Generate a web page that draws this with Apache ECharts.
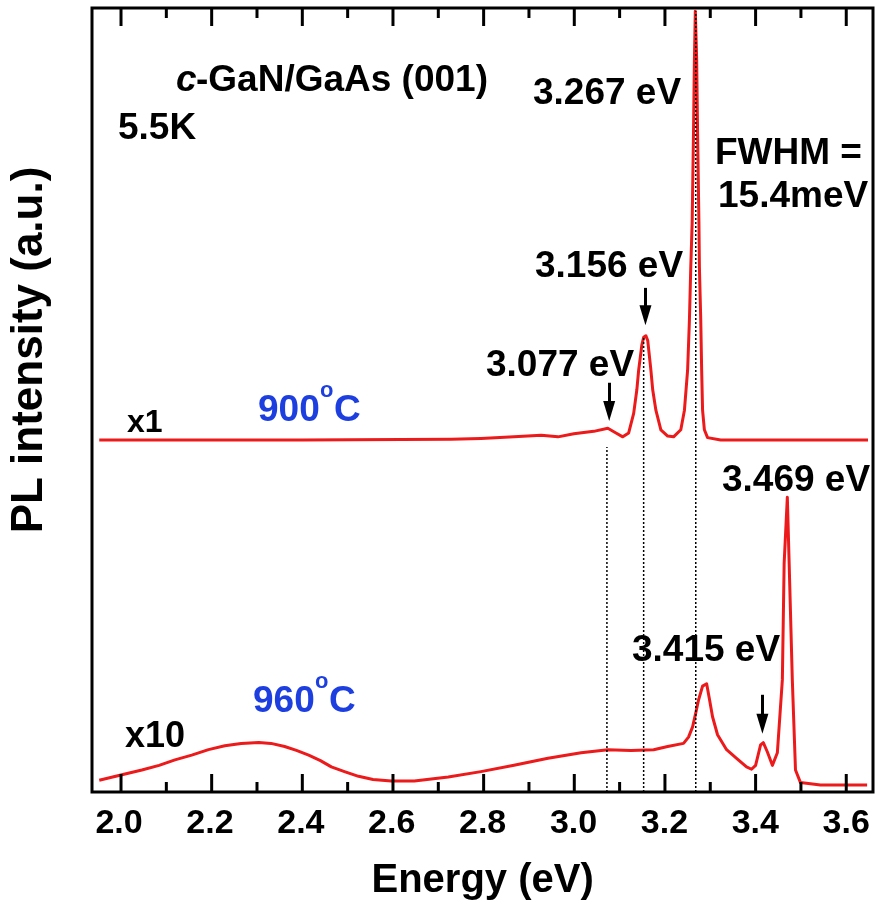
<!DOCTYPE html>
<html>
<head>
<meta charset="utf-8">
<script src="https://cdn.jsdelivr.net/npm/echarts@6/dist/echarts.min.js"></script>
<style>
html,body{margin:0;padding:0;background:#fff;}
#chart{width:881px;height:902px;}
</style>
</head>
<body>
<div id="chart"></div>
<script>
// ---- data ----
const upperEnergy = [1.952,2.398,2.728,2.794,2.867,2.927,2.964,2.999,3.043,3.074,3.092,3.107,3.120,3.131,3.138,3.142,3.149,3.153,3.158,3.162,3.169,3.173,3.180,3.191,3.206,3.219,3.235,3.243,3.250,3.254,3.257,3.260,3.263,3.265,3.267,3.270,3.272,3.275,3.276,3.279,3.281,3.283,3.287,3.294,3.323,3.648];
const upperIntensity = [44.9,44.9,45.0,45.1,45.3,45.5,45.3,45.7,46.0,46.4,45.8,45.3,45.8,48.3,51.3,53.8,57.0,58.0,58.2,57.6,53.8,51.3,48.7,46.2,45.4,45.3,46.2,48.7,53.8,60.2,67.0,72.5,84.1,93.4,99.6,93.4,84.1,72.5,67.0,60.2,53.8,48.7,46.2,45.2,44.9,44.9];

const lowerEnergy = [1.952,2.002,2.046,2.084,2.119,2.156,2.193,2.229,2.265,2.304,2.331,2.361,2.387,2.414,2.440,2.464,2.493,2.524,2.556,2.596,2.647,2.722,2.794,2.867,2.942,3.015,3.074,3.125,3.175,3.206,3.241,3.252,3.261,3.268,3.274,3.283,3.292,3.298,3.305,3.316,3.336,3.358,3.380,3.391,3.400,3.411,3.417,3.426,3.437,3.448,3.459,3.463,3.470,3.474,3.481,3.488,3.499,3.543,3.646];
const lowerIntensity = [1.5,2.2,2.8,3.4,4.1,4.7,5.4,5.9,6.2,6.3,6.2,5.8,5.3,4.7,4.0,3.2,2.6,2.0,1.6,1.4,1.4,1.9,2.6,3.4,4.3,5.0,5.4,5.3,5.4,5.8,6.2,7.0,8.3,10.1,11.7,13.5,13.8,11.9,9.6,7.3,5.4,4.3,3.2,2.9,3.4,6.0,6.3,5.1,3.4,5.0,14.3,29.2,37.6,29.2,14.3,2.8,1.2,0.9,0.9];

// energy-axis tick labels (major ticks) and minor ticks
const tickLabels = [2.0,2.2,2.4,2.6,2.8,3.0,3.2,3.4,3.6];
const minorTicks = [2.1,2.3,2.5,2.7,2.9,3.1,3.3,3.5];

const peakLineEnergy = [3.072,3.153,3.268];
const peakLineTop = [44.0,58.0,99.6];

const arrowEnergy = [3.077,3.157,3.415];
const arrowFrom = [52.2,64.3,12.4];
const arrowTo = [48.6,60.8,8.7];

// ---- chart ----
const FONT = 'Liberation Sans, Arial, Helvetica, sans-serif';
const RED = '#ec1a1a';
const BLUE = '#1d3fe0';
const X_MIN = 1.936, X_MAX = 3.659;
const Y_MIN = 0, Y_MAX = 100;
const W = 881, H = 902;
// plot frame in pixels
const FRAME = {left: 90, right: 873, top: 8, bottom: 792};
const PX_PER_EV = (FRAME.right - FRAME.left) / (X_MAX - X_MIN);
const px = e => FRAME.left + (e - X_MIN) * PX_PER_EV;
const STEP = tickLabels[1] - tickLabels[0];
const MAJOR_LEN = 18, MINOR_LEN = 10;

const zip = (a, b) => a.map((v, i) => [v, b[i]]);

const grids = [
  {left: FRAME.left, right: W - FRAME.right, top: FRAME.top, bottom: H - FRAME.bottom, show: true,
    borderColor: '#000', borderWidth: 3},
  // label strip spanning the labelled energies, on the bottom edge of the frame
  {left: px(tickLabels[0]), right: W - px(tickLabels[tickLabels.length - 1]),
    top: FRAME.bottom - 18, height: 18, show: false}
];

const xAxes = [
  {type: 'value', gridIndex: 0, min: X_MIN, max: X_MAX,
    axisLine: {show: false}, axisTick: {show: false}, axisLabel: {show: false}, splitLine: {show: false}},
  {type: 'value', gridIndex: 1, position: 'bottom',
    min: tickLabels[0], max: tickLabels[tickLabels.length - 1], interval: STEP,
    axisLine: {show: false}, axisTick: {show: false}, splitLine: {show: false},
    axisLabel: {show: true, margin: 16, showMinLabel: true, showMaxLabel: true,
      formatter: v => Number(v).toFixed(1),
      color: '#000', fontSize: 34, fontWeight: 'bold', fontFamily: FONT},
    name: 'Energy (eV)', nameLocation: 'middle', nameGap: 70,
    nameTextStyle: {color: '#000', fontSize: 40, fontWeight: 'bold', fontFamily: FONT}}
];

const yAxes = [
  {type: 'value', gridIndex: 0, min: Y_MIN, max: Y_MAX,
    axisLine: {show: false}, axisTick: {show: false}, axisLabel: {show: false},
    splitLine: {show: false},
    name: 'PL intensity (a.u.)', nameLocation: 'middle', nameGap: 40, nameRotate: 90,
    nameTextStyle: {color: '#000', fontSize: 44, fontWeight: 'bold', fontFamily: FONT,
      padding: [0, 0, 0, 100]}},
  {type: 'value', gridIndex: 1, min: 0, max: 1,
    axisLine: {show: false}, axisTick: {show: false}, axisLabel: {show: false},
    splitLine: {show: false}}
];

const dropSeries = peakLineEnergy.map((e, i) => ({
  type: 'line', xAxisIndex: 0, yAxisIndex: 0, z: 5,
  data: [[e, 0], [e, peakLineTop[i]]],
  showSymbol: false, silent: true, animation: false,
  lineStyle: {color: '#000', width: 1.5, type: [2, 2]}
}));

const arrowSeries = {
  type: 'line', xAxisIndex: 0, yAxisIndex: 0, data: [], silent: true, animation: false, z: 6,
  markLine: {
    silent: true, animation: false,
    symbol: ['none', 'path://M6,0 L12,20 L0,20 Z'],
    symbolSize: 20,
    symbolKeepAspect: true,
    label: {show: false},
    lineStyle: {color: '#000', width: 3, type: 'solid'},
    emphasis: {disabled: true},
    data: arrowEnergy.map((e, i) => [{coord: [e, arrowFrom[i]]}, {coord: [e, arrowTo[i]]}])
  }
};

function txt(x, y, text, size, color, style) {
  return {type: 'text', x: x, y: y, z: 100, silent: true,
    style: {text: text, fill: color || '#000',
      font: (style || 'bold') + ' ' + size + 'px ' + FONT,
      verticalAlign: 'bottom', align: 'left'}};
}

const annotations = [
  txt(176, 99, 'c', 37, '#000', 'italic bold'),
  txt(196, 99, '-GaN/GaAs (001)', 37),
  txt(118, 147, '5.5K', 37),
  txt(533, 112, '3.267 eV', 37),
  txt(715, 172, 'FWHM =', 37),
  txt(718, 215, '15.4meV', 37),
  txt(535, 285, '3.156 eV', 37),
  txt(486, 384, '3.077 eV', 37),
  txt(127, 439, 'x1', 32),
  txt(258, 429, '900', 37, BLUE),
  txt(320, 402, 'o', 22, BLUE),
  txt(334, 429, 'C', 37, BLUE),
  txt(722, 499, '3.469 eV', 37),
  txt(632, 669, '3.415 eV', 37),
  txt(253, 720, '960', 37, BLUE),
  txt(315, 693, 'o', 22, BLUE),
  txt(329, 720, 'C', 37, BLUE),
  txt(125, 755, 'x10', 36)
];

const chart = echarts.init(document.getElementById('chart'), null, {renderer: 'canvas'});
chart.setOption({
  backgroundColor: '#ffffff',
  animation: false,
  grid: grids,
  xAxis: xAxes,
  yAxis: yAxes,
  series: [
    {type: 'line', name: '900°C', xAxisIndex: 0, yAxisIndex: 0,
      data: zip(upperEnergy, upperIntensity), showSymbol: false,
      smooth: false, z: 3,
      lineStyle: {color: RED, width: 3, join: 'round'}},
    {type: 'line', name: '960°C', xAxisIndex: 0, yAxisIndex: 0,
      data: zip(lowerEnergy, lowerIntensity), showSymbol: false,
      smooth: false, z: 3,
      lineStyle: {color: RED, width: 3, join: 'round'}}
  ].concat(dropSeries).concat([arrowSeries]),
  graphic: annotations
});

// inward ticks on the bottom and top edges, placed through the energy scale of the chart
try {
  const ticks = [];
  function addTicks(values, len) {
    values.forEach(e => {
      const b = chart.convertToPixel({xAxisIndex: 0, yAxisIndex: 0}, [e, Y_MIN]);
      const t = chart.convertToPixel({xAxisIndex: 0, yAxisIndex: 0}, [e, Y_MAX]);
      ticks.push({type: 'line', z: 90, silent: true,
        shape: {x1: b[0], y1: b[1], x2: b[0], y2: b[1] - len},
        style: {stroke: '#000', lineWidth: 3}});
      ticks.push({type: 'line', z: 90, silent: true,
        shape: {x1: t[0], y1: t[1], x2: t[0], y2: t[1] + len},
        style: {stroke: '#000', lineWidth: 3}});
    });
  }
  addTicks(tickLabels, MAJOR_LEN);
  addTicks(minorTicks, MINOR_LEN);
  chart.setOption({graphic: annotations.concat(ticks)});
} catch (err) {
  console.error(err);
}
</script>
</body>
</html>
